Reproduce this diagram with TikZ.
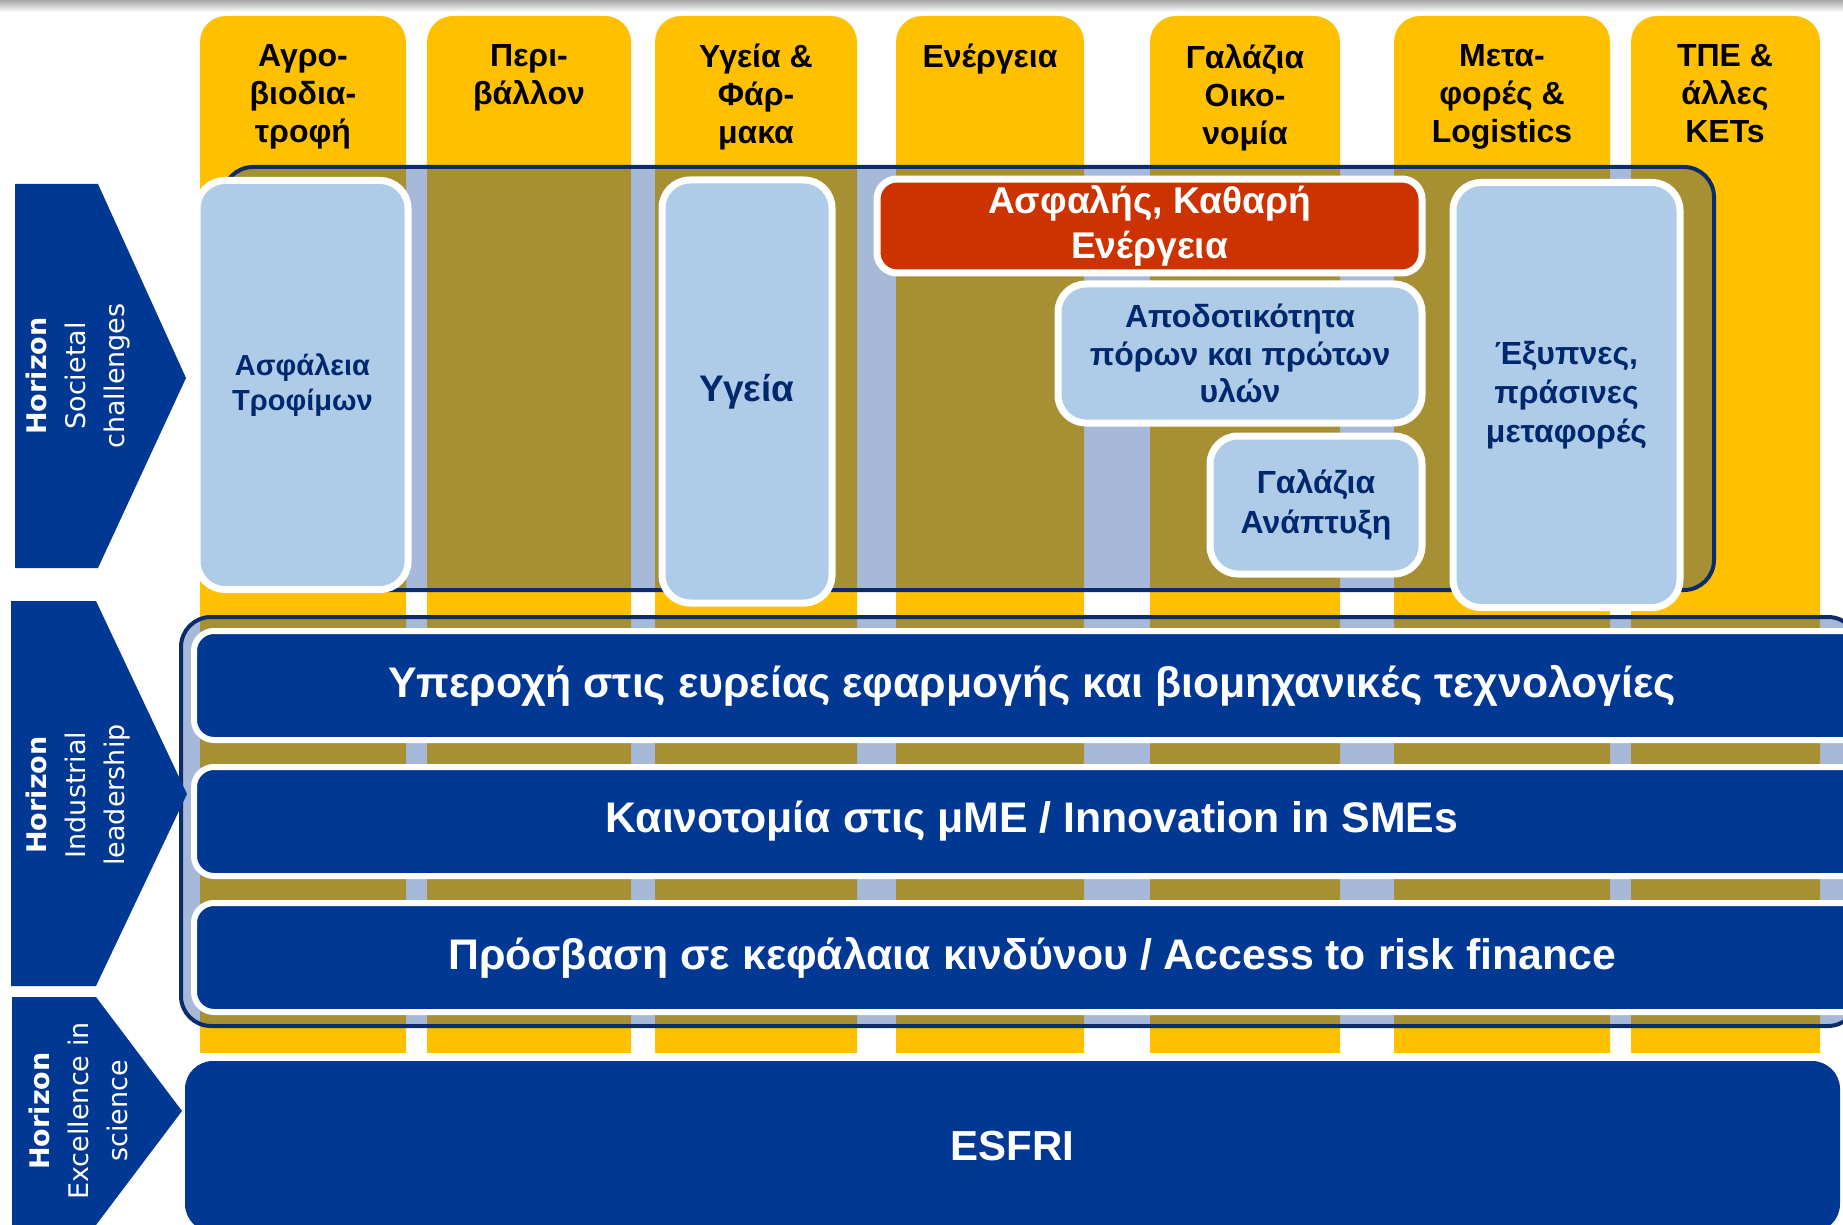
\documentclass[tikz,border=0pt]{standalone}
\usepackage{fontspec}
\setmainfont{Liberation Sans}
\newfontfamily\horizonfont{DejaVu Sans}
\definecolor{colyellow}{HTML}{FFC000}
\definecolor{navybar}{HTML}{003893}
\definecolor{navyline}{HTML}{0B2B6B}
\definecolor{navytext}{HTML}{00286E}
\definecolor{skybox}{HTML}{AECBE8}
\definecolor{redbox}{HTML}{CC3300}

\begin{document}
\begin{tikzpicture}[x=0.5pt, y=-0.5pt,
        colhead/.style={anchor=north, align=center, inner sep=0pt,
            font=\bfseries\fontsize{16}{19}\selectfont},
        areabox/.style={draw=navyline, line width=2pt, fill=navybar,
            fill opacity=0.35, rounded corners=15pt},
        prio/.style={draw=white, line width=3.5pt, fill=skybox, text=navytext,
            rounded corners=14pt, align=center,
            font=\bfseries\fontsize{14.5}{17.5}\selectfont},
        pillarbar/.style={draw=white, line width=3pt, fill=navybar, text=white,
            rounded corners=10pt, minimum width=838pt, minimum height=54.5pt,
            font=\bfseries\fontsize{21.4}{25}\selectfont},
        horizon/.style={rotate=90, align=center, text=white,
            font=\horizonfont\fontsize{13.5}{19.5}\selectfont},
        chevron/.style={fill=navybar},
    ]
    \useasboundingbox[fill=white] (0,0) rectangle (1843,1225);
    \clip (0,0) rectangle (1843,1225);
    \shade[top color=black!35, bottom color=white] (0,0) rectangle (1843,12);

    \begin{scope}
        \clip (0,0) rectangle (1843,1052);
        \foreach \xa/\xb in {200/406, 427/631, 655/857, 896/1084, 1150/1340, 1394/1610, 1631/1820}
            \fill[colyellow, rounded corners=13pt] (\xa,16) rectangle (\xb,1100);
    \end{scope}
    \foreach \xc/\name/\txt in {303/agro/{Αγρο-\\βιοδια-\\τροφή},
            529/environment/{Περι-\\βάλλον},
            756/pharma/{Υγεία \&\\Φάρ-\\μακα},
            990/energyhead/{Ενέργεια},
            1245/blueeco/{Γαλάζια\\Οικο-\\νομία},
            1502/logistics/{Μετα-\\φορές \&\\Logistics},
            1725/kets/{ΤΠΕ \&\\άλλες\\KETs}}
        \node[colhead] (\name) at (\xc,44) {\txt};

    \node[areabox, minimum width=745.5pt, minimum height=211.5pt] (societal) at (968.5,378.5) {};
    \node[prio, minimum width=105.5pt, minimum height=204.5pt] (food) at (302.5,385) {Ασφάλεια\\Τροφίμων};
    \node[prio, minimum width=85pt, minimum height=211.5pt,
        font=\bfseries\fontsize{18.5}{22}\selectfont] (health) at (747,391.5) {Υγεία};
    \node[prio, fill=redbox, text=white, minimum width=272.5pt, minimum height=46pt,
        rounded corners=10pt, font=\bfseries\fontsize{18.6}{22.5}\selectfont]
        (energy) at (1149.5,226) {Ασφαλής, Καθαρή\\Ενέργεια};
    \node[prio, minimum width=182pt, minimum height=69.5pt,
        font=\bfseries\fontsize{16}{18.8}\selectfont] (resource) at (1240,353.5)
        {Αποδοτικότητα\\πόρων και πρώτων\\υλών};
    \node[prio, minimum width=106pt, minimum height=69pt,
        font=\bfseries\fontsize{16}{20}\selectfont] (bluegrowth) at (1316,505) {Γαλάζια\\Ανάπτυξη};
    \node[prio, minimum width=113.5pt, minimum height=212.5pt,
        font=\bfseries\fontsize{16}{19.5}\selectfont] (transport) at (1566.5,395)
        {Έξυπνες,\\πράσινες\\μεταφορές};

    \node[areabox, minimum width=838.5pt, minimum height=204.5pt] (industrial) at (1019.5,821.5) {};
    \node[pillarbar] (ket) at (1032,685.5) {Υπεροχή στις ευρείας εφαρμογής και βιομηχανικές τεχνολογίες};
    \node[pillarbar] (smes) at (1032,821.5) {Καινοτομία στις μΜΕ / Innovation in SMEs};
    \node[pillarbar] (finance) at (1032,957.5) {Πρόσβαση σε κεφάλαια κινδύνου / Access to risk finance};

    \node[fill=navybar, text=white, rounded corners=14pt, minimum width=827.5pt,
        minimum height=85.5pt, font=\bfseries\fontsize{21}{25}\selectfont]
        (esfri) at (1012.5,1146.5) {ESFRI};

    \fill[chevron] (15,184) -- (98,184) -- (186,378) -- (98,568) -- (15,568) -- cycle;
    \fill[chevron] (11,601) -- (96,601) -- (187,794) -- (96,986) -- (11,986) -- cycle;
    \fill[chevron] (12,997) -- (96,997) -- (182,1111) -- (96,1225) -- (12,1225) -- cycle;
    \node[horizon] (hsoc) at (78,376) {\textbf{Horizon}\\Societal\\challenges};
    \node[horizon] (hind) at (78,795) {\textbf{Horizon}\\Industrial\\leadership};
    \node[horizon] (hexc) at (78,1111) {\textbf{Horizon}\\Excellence in\\science};
\end{tikzpicture}
\end{document}
